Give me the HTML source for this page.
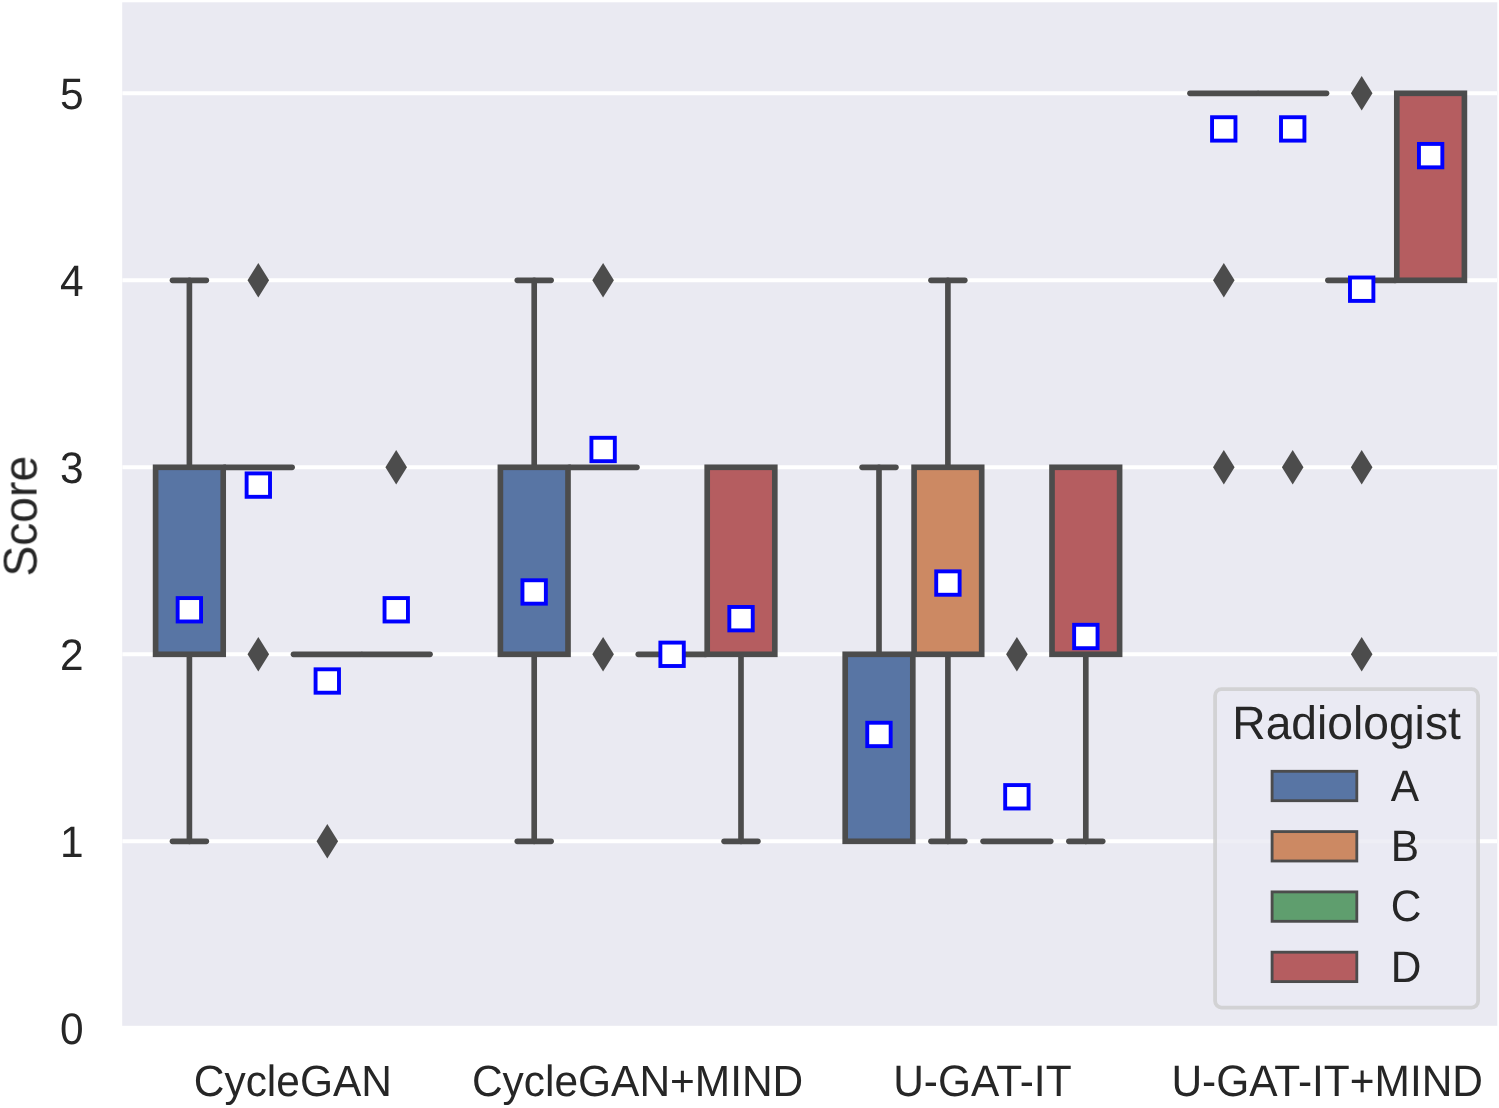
<!DOCTYPE html>
<html lang="en"><head><meta charset="utf-8"><title>Radiologist scores boxplot</title>
<style>
html,body{margin:0;padding:0;background:#fff;}
body{width:1499px;height:1108px;overflow:hidden;}
svg{display:block;}
</style></head><body>
<svg width="1499" height="1108" viewBox="0 0 1499 1108">
<rect x="0" y="0" width="1499" height="1108" fill="#ffffff"/>
<clipPath id="ax"><rect x="122.2" y="2.3" width="1375.1" height="1023.5"/></clipPath>
<rect x="122.2" y="2.3" width="1375.1" height="1023.5" fill="#eaeaf2"/>
<g clip-path="url(#ax)">
<g stroke="#ffffff" stroke-width="4" stroke-linecap="butt">
<line x1="122.2" x2="1497.3" y1="1028.3" y2="1028.3"/>
<line x1="122.2" x2="1497.3" y1="841.3" y2="841.3"/>
<line x1="122.2" x2="1497.3" y1="654.3" y2="654.3"/>
<line x1="122.2" x2="1497.3" y1="467.3" y2="467.3"/>
<line x1="122.2" x2="1497.3" y1="280.3" y2="280.3"/>
<line x1="122.2" x2="1497.3" y1="93.3" y2="93.3"/>
</g>
<g stroke="#4c4c4c" stroke-width="5.65" stroke-linecap="round" fill="none">
<line x1="189.4" x2="189.4" y1="654.3" y2="841.3"/>
<line x1="172.5" x2="206.3" y1="841.3" y2="841.3"/>
<line x1="189.4" x2="189.4" y1="467.3" y2="280.3"/>
<line x1="172.5" x2="206.3" y1="280.3" y2="280.3"/>
<rect x="155.6" y="467.3" width="67.6" height="187.0" fill="#5875a4" stroke-linejoin="miter"/>
</g>
<g stroke="#4c4c4c" stroke-width="5.65" stroke-linecap="round" fill="none">
<line x1="224.5" x2="292.1" y1="467.3" y2="467.3"/>
</g>
<g stroke="#4c4c4c" stroke-width="5.65" stroke-linecap="round" fill="none">
<line x1="293.5" x2="361.1" y1="654.3" y2="654.3"/>
</g>
<g stroke="#4c4c4c" stroke-width="5.65" stroke-linecap="round" fill="none">
<line x1="362.4" x2="430.0" y1="654.3" y2="654.3"/>
</g>
<g stroke="#4c4c4c" stroke-width="5.65" stroke-linecap="round" fill="none">
<line x1="534.2" x2="534.2" y1="654.3" y2="841.3"/>
<line x1="517.3" x2="551.1" y1="841.3" y2="841.3"/>
<line x1="534.2" x2="534.2" y1="467.3" y2="280.3"/>
<line x1="517.3" x2="551.1" y1="280.3" y2="280.3"/>
<rect x="500.4" y="467.3" width="67.6" height="187.0" fill="#5875a4" stroke-linejoin="miter"/>
</g>
<g stroke="#4c4c4c" stroke-width="5.65" stroke-linecap="round" fill="none">
<line x1="569.3" x2="636.9" y1="467.3" y2="467.3"/>
</g>
<g stroke="#4c4c4c" stroke-width="5.65" stroke-linecap="round" fill="none">
<line x1="638.3" x2="705.9" y1="654.3" y2="654.3"/>
</g>
<g stroke="#4c4c4c" stroke-width="5.65" stroke-linecap="round" fill="none">
<line x1="741.0" x2="741.0" y1="654.3" y2="841.3"/>
<line x1="724.1" x2="757.9" y1="841.3" y2="841.3"/>
<rect x="707.2" y="467.3" width="67.6" height="187.0" fill="#b55d60" stroke-linejoin="miter"/>
</g>
<g stroke="#4c4c4c" stroke-width="5.65" stroke-linecap="round" fill="none">
<line x1="879.0" x2="879.0" y1="654.3" y2="467.3"/>
<line x1="862.1" x2="895.9" y1="467.3" y2="467.3"/>
<rect x="845.2" y="654.3" width="67.6" height="187.0" fill="#5875a4" stroke-linejoin="miter"/>
</g>
<g stroke="#4c4c4c" stroke-width="5.65" stroke-linecap="round" fill="none">
<line x1="947.9" x2="947.9" y1="654.3" y2="841.3"/>
<line x1="931.0" x2="964.8" y1="841.3" y2="841.3"/>
<line x1="947.9" x2="947.9" y1="467.3" y2="280.3"/>
<line x1="931.0" x2="964.8" y1="280.3" y2="280.3"/>
<rect x="914.1" y="467.3" width="67.6" height="187.0" fill="#cc8963" stroke-linejoin="miter"/>
</g>
<g stroke="#4c4c4c" stroke-width="5.65" stroke-linecap="round" fill="none">
<line x1="983.1" x2="1050.7" y1="841.3" y2="841.3"/>
</g>
<g stroke="#4c4c4c" stroke-width="5.65" stroke-linecap="round" fill="none">
<line x1="1085.8" x2="1085.8" y1="654.3" y2="841.3"/>
<line x1="1068.9" x2="1102.7" y1="841.3" y2="841.3"/>
<rect x="1052.0" y="467.3" width="67.6" height="187.0" fill="#b55d60" stroke-linejoin="miter"/>
</g>
<g stroke="#4c4c4c" stroke-width="5.65" stroke-linecap="round" fill="none">
<line x1="1190.0" x2="1257.6" y1="93.3" y2="93.3"/>
</g>
<g stroke="#4c4c4c" stroke-width="5.65" stroke-linecap="round" fill="none">
<line x1="1258.9" x2="1326.5" y1="93.3" y2="93.3"/>
</g>
<g stroke="#4c4c4c" stroke-width="5.65" stroke-linecap="round" fill="none">
<line x1="1327.9" x2="1395.5" y1="280.3" y2="280.3"/>
</g>
<g stroke="#4c4c4c" stroke-width="5.65" stroke-linecap="round" fill="none">
<rect x="1396.8" y="93.3" width="67.6" height="187.0" fill="#b55d60" stroke-linejoin="miter"/>
</g>
<g fill="#4c4c4c">
<polygon points="258.3,263.1 269.1,280.3 258.3,297.5 247.5,280.3"/>
<polygon points="258.3,637.1 269.1,654.3 258.3,671.5 247.5,654.3"/>
<polygon points="327.3,824.1 338.1,841.3 327.3,858.5 316.5,841.3"/>
<polygon points="396.2,450.1 407.0,467.3 396.2,484.5 385.4,467.3"/>
<polygon points="603.1,263.1 613.9,280.3 603.1,297.5 592.3,280.3"/>
<polygon points="603.1,637.1 613.9,654.3 603.1,671.5 592.3,654.3"/>
<polygon points="1016.9,637.1 1027.7,654.3 1016.9,671.5 1006.1,654.3"/>
<polygon points="1223.8,263.1 1234.6,280.3 1223.8,297.5 1213.0,280.3"/>
<polygon points="1223.8,450.1 1234.6,467.3 1223.8,484.5 1213.0,467.3"/>
<polygon points="1292.7,450.1 1303.5,467.3 1292.7,484.5 1281.9,467.3"/>
<polygon points="1361.7,76.1 1372.5,93.3 1361.7,110.5 1350.9,93.3"/>
<polygon points="1361.7,450.1 1372.5,467.3 1361.7,484.5 1350.9,467.3"/>
<polygon points="1361.7,637.1 1372.5,654.3 1361.7,671.5 1350.9,654.3"/>
</g>
<g fill="#ffffff" stroke="#0000ff" stroke-width="3.9">
<rect x="177.66" y="598.08" width="23.4" height="23.4"/>
<rect x="246.62" y="473.41" width="23.4" height="23.4"/>
<rect x="315.58" y="669.31" width="23.4" height="23.4"/>
<rect x="384.54" y="598.08" width="23.4" height="23.4"/>
<rect x="522.46" y="580.27" width="23.4" height="23.4"/>
<rect x="591.42" y="437.79" width="23.4" height="23.4"/>
<rect x="660.38" y="642.60" width="23.4" height="23.4"/>
<rect x="729.34" y="606.98" width="23.4" height="23.4"/>
<rect x="867.26" y="722.74" width="23.4" height="23.4"/>
<rect x="936.22" y="571.36" width="23.4" height="23.4"/>
<rect x="1005.18" y="785.08" width="23.4" height="23.4"/>
<rect x="1074.14" y="624.79" width="23.4" height="23.4"/>
<rect x="1212.06" y="117.22" width="23.4" height="23.4"/>
<rect x="1281.02" y="117.22" width="23.4" height="23.4"/>
<rect x="1349.98" y="277.50" width="23.4" height="23.4"/>
<rect x="1418.94" y="143.93" width="23.4" height="23.4"/>
</g>
</g>
<rect x="1215.1" y="689.1" width="263" height="318.5" rx="6.5" ry="6.5" fill="#eaeaf2" fill-opacity="0.8" stroke="#cccccc" stroke-opacity="0.8" stroke-width="3.8"/>
<g font-family="'Liberation Sans', sans-serif" fill="#262626" opacity="0.999" text-rendering="geometricPrecision">
<text transform="translate(1232.3,738.9) scale(1,1.015)" font-size="46.2">Radiologist</text>
<rect x="1272.1" y="771.3" width="84.7" height="29.4" fill="#5875a4" stroke="#4c4c4c" stroke-width="2.84"/>
<text transform="translate(1390.7,800.7) scale(1,1.04)" font-size="42.45">A</text>
<rect x="1272.1" y="831.6" width="84.7" height="29.4" fill="#cc8963" stroke="#4c4c4c" stroke-width="2.84"/>
<text transform="translate(1390.7,861.0) scale(1,1.04)" font-size="42.45">B</text>
<rect x="1272.1" y="891.9" width="84.7" height="29.4" fill="#5f9e6e" stroke="#4c4c4c" stroke-width="2.84"/>
<text transform="translate(1390.7,921.3) scale(1,1.04)" font-size="42.45">C</text>
<rect x="1272.1" y="952.2" width="84.7" height="29.4" fill="#b55d60" stroke="#4c4c4c" stroke-width="2.84"/>
<text transform="translate(1390.7,981.6) scale(1,1.04)" font-size="42.45">D</text>
<text transform="translate(83.6,1043.6) scale(1,1.04)" font-size="42.45" text-anchor="end">0</text>
<text transform="translate(83.6,856.6) scale(1,1.04)" font-size="42.45" text-anchor="end">1</text>
<text transform="translate(83.6,669.6) scale(1,1.04)" font-size="42.45" text-anchor="end">2</text>
<text transform="translate(83.6,482.6) scale(1,1.04)" font-size="42.45" text-anchor="end">3</text>
<text transform="translate(83.6,295.6) scale(1,1.04)" font-size="42.45" text-anchor="end">4</text>
<text transform="translate(83.6,108.6) scale(1,1.04)" font-size="42.45" text-anchor="end">5</text>
<text transform="translate(292.8,1096.2) scale(1,1.03)" font-size="42.45" text-anchor="middle">CycleGAN</text>
<text transform="translate(637.6,1096.2) scale(1,1.03)" font-size="42.45" text-anchor="middle">CycleGAN+MIND</text>
<text transform="translate(982.4,1096.2) scale(1,1.04)" font-size="42.45" text-anchor="middle">U-GAT-IT</text>
<text transform="translate(1327.2,1096.2) scale(1,1.04)" font-size="42.45" text-anchor="middle">U-GAT-IT+MIND</text>
<text transform="translate(36.6,516.3) rotate(-90) scale(1,1.025)" font-size="46.2" text-anchor="middle">Score</text>
</g>
</svg>
</body></html>
